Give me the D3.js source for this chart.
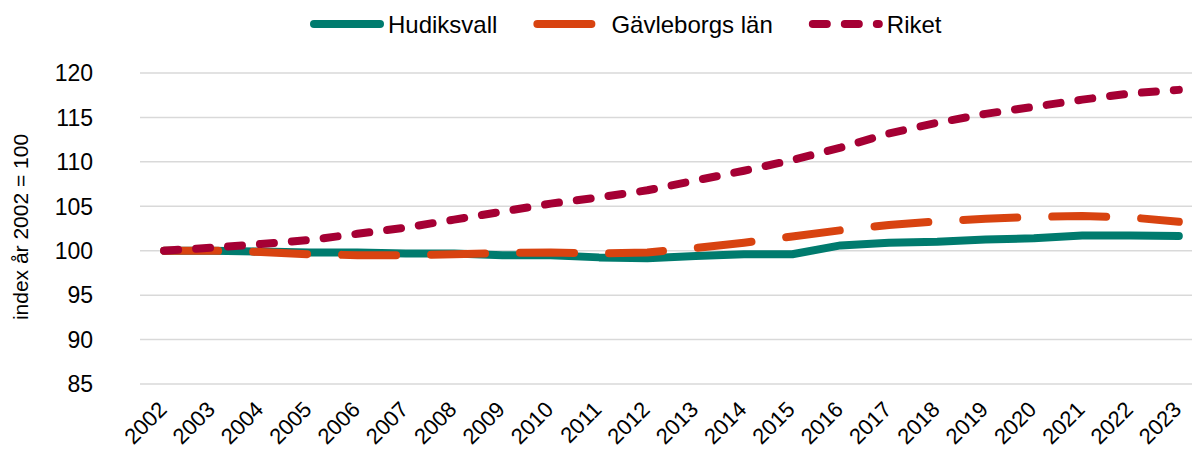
<!DOCTYPE html>
<html>
<head>
<meta charset="utf-8">
<script src="https://cdn.jsdelivr.net/npm/d3@7"></script>
<style>
  body { margin: 0; background: #fff; }
  text { font-family: "Liberation Sans", Arial, sans-serif; fill: #000; }
  .grid line { stroke: #d9d9d9; stroke-width: 1.5; }
</style>
</head>
<body>
<svg id="chart" width="1192" height="453"></svg>
<script>
var years = ["2002","2003","2004","2005","2006","2007","2008","2009","2010","2011","2012",
             "2013","2014","2015","2016","2017","2018","2019","2020","2021","2022","2023"];
var hudiksvall = [100, 100.0, 99.9, 99.8, 99.8, 99.7, 99.7, 99.5, 99.5, 99.25, 99.15,
                  99.4, 99.6, 99.6, 100.6, 100.9, 101.0, 101.25, 101.4, 101.7, 101.7, 101.65];
var gavleborg = [100, 100.0, 99.85, 99.6, 99.5, 99.5, 99.6, 99.75, 99.8, 99.7, 99.8,
                 100.3, 100.9, 101.6, 102.3, 102.9, 103.3, 103.6, 103.8, 103.9, 103.75, 103.25];
var riket = [100, 100.35, 100.75, 101.2, 101.9, 102.6, 103.5, 104.4, 105.3, 106.0, 106.8,
             107.9, 109.0, 110.2, 111.6, 113.2, 114.4, 115.4, 116.2, 117.0, 117.7, 118.1];
var yTicks = [85, 90, 95, 100, 105, 110, 115, 120];
var seriesNames = ["Hudiksvall", "Gävleborgs län", "Riket"];

var svg = d3.select("#chart"),
    margin = {top: 73, left: 140},
    width = 1063,
    height = 311;

var series = [
  {name: seriesNames[0], values: hudiksvall, color: "#007b6e", dash: null},
  {name: seriesNames[1], values: gavleborg, color: "#d84310", dash: "54,35"},
  {name: seriesNames[2], values: riket, color: "#a50034", dash: "14,18"}
];

var x = d3.scaleBand().domain(years).range([0, width]);
var y = d3.scaleLinear().domain([85, 120]).range([height, 0]);

var g = svg.append("g")
    .attr("transform", "translate(" + margin.left + "," + margin.top + ")");

// gridlines
g.append("g")
    .attr("class", "grid")
  .selectAll("line")
  .data(yTicks)
  .enter().append("line")
    .attr("x1", 0)
    .attr("x2", width)
    .attr("y1", function(d) { return y(d); })
    .attr("y2", function(d) { return y(d); });

// y tick labels
g.append("g")
  .selectAll("text")
  .data(yTicks)
  .enter().append("text")
    .attr("x", -47)
    .attr("y", function(d) { return y(d); })
    .attr("dy", "0.36em")
    .attr("text-anchor", "end")
    .style("font-size", "23px")
    .text(function(d) { return d; });

// x labels
g.append("g")
  .selectAll("text")
  .data(years)
  .enter().append("text")
    .attr("transform", function(d) {
      return "translate(" + (x(d) + x.bandwidth() / 2 - 7) + "," + (height + 16) + ") rotate(-45)";
    })
    .attr("text-anchor", "end")
    .attr("dy", "0.7em")
    .style("font-size", "22px")
    .text(function(d) { return d; });

// y title
svg.append("text")
    .attr("transform", "translate(28,227) rotate(-90)")
    .attr("text-anchor", "middle")
    .style("font-size", "21px")
    .text("index år 2002 = 100");

var line = d3.line()
    .x(function(d, i) { return x(years[i]) + x.bandwidth() / 2; })
    .y(function(d) { return y(d); });

g.selectAll(".series")
  .data(series)
  .enter().append("path")
    .attr("class", "series")
    .attr("fill", "none")
    .attr("stroke", function(d) { return d.color; })
    .attr("stroke-width", 8)
    .attr("stroke-linecap", "round")
    .attr("stroke-linejoin", "round")
    .attr("stroke-dasharray", function(d) { return d.dash; })
    .attr("d", function(d) { return line(d.values); });

// legend
var legend = svg.append("g").attr("transform", "translate(0,24)");
var lx = 310;
series.forEach(function(s) {
  legend.append("line")
      .attr("x1", lx + 4).attr("x2", lx + 70)
      .attr("y1", 0).attr("y2", 0)
      .attr("stroke", s.color)
      .attr("stroke-width", 8)
      .attr("stroke-linecap", "round")
      .attr("stroke-dasharray", s.dash);
  var t = legend.append("text")
      .attr("x", lx + 78)
      .attr("dy", "0.36em")
      .style("font-size", "24px")
      .text(s.name);
  lx += 78 + t.node().getComputedTextLength() + 36;
});
</script>
</body>
</html>
